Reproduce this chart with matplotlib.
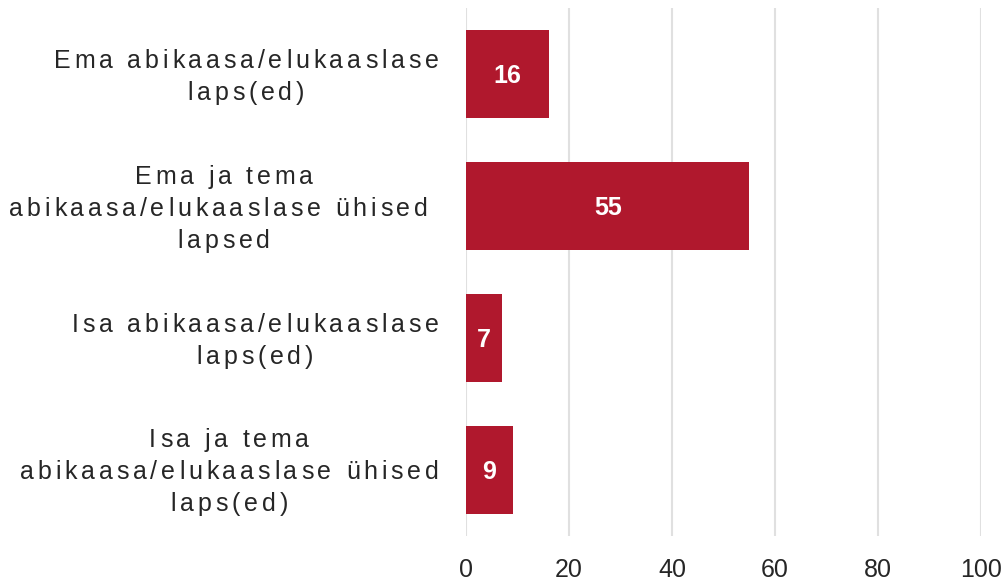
import matplotlib
matplotlib.use("Agg")
import matplotlib.pyplot as plt
from matplotlib import font_manager
from matplotlib.ft2font import FT2Font, LoadFlags

categories = [
    "Ema abikaasa/elukaaslase\nlaps(ed)",
    "Ema ja tema\nabikaasa/elukaaslase ühised \nlapsed",
    "Isa abikaasa/elukaaslase\nlaps(ed)",
    "Isa ja tema\nabikaasa/elukaaslase ühised\nlaps(ed)",
]
values = [16, 55, 7, 9]
xticks = [0, 20, 40, 60, 80, 100]

FAMILY = "Liberation Sans"
TEXT_COLOR = "#262626"
BAR_COLOR = "#B0182D"
plt.rcParams["font.family"] = [FAMILY, "DejaVu Sans"]

DPI = 100
fig = plt.figure(figsize=(10.07, 5.81), dpi=DPI)
ax = fig.add_axes([0.463, 0.0775, 0.511, 0.9085])

ypos = list(range(len(categories)))
ax.barh(ypos, values, height=0.667, color=BAR_COLOR, zorder=3)
for y, v in zip(ypos, values):
    ax.annotate(str(v), (v / 2, y), xytext=(0, -6.4), textcoords="offset points",
                ha="center", va="baseline", color="white",
                fontsize=18, fontweight="bold", zorder=4)

ax.set_ylim(3.5, -0.5)
ax.set_xlim(0, 100)
ax.set_xticks(xticks)
ax.set_xticklabels([str(t) for t in xticks], fontsize=18, color=TEXT_COLOR)
ax.set_yticks([])
ax.tick_params(axis="x", length=0, pad=16)
ax.grid(axis="x", color="#E0E0E0", linewidth=1.5, zorder=0)
for s in ax.spines.values():
    s.set_visible(False)

# --- category labels with letter spacing (drawn character by character) ---
LABEL_PT = 18
SPACING_PX = 3.8
LINE_PX = 32
BASELINE_OFF = 9.5
fpath = font_manager.findfont(font_manager.FontProperties(family=FAMILY))
ft = FT2Font(fpath)
ft.set_size(LABEL_PT, DPI)


def advance(ch):
    g = ft.load_char(ord(ch), flags=LoadFlags.NO_HINTING)
    return g.linearHoriAdvance / 65536.0


W, H = fig.get_size_inches() * DPI
ax_left_px = ax.transAxes.transform((0, 0))[0]
block_right = ax_left_px - 24

for i, label in enumerate(categories):
    lines = label.split("\n")
    widths = [sum(advance(c) + SPACING_PX for c in ln) for ln in lines]
    bw = max(widths)
    cx = block_right - bw / 2
    yc = ax.transData.transform((0, i))[1]
    n = len(lines)
    for j, (ln, lw) in enumerate(zip(lines, widths)):
        base = yc - BASELINE_OFF - (j - (n - 1) / 2) * LINE_PX
        x = cx - lw / 2
        for c in ln:
            if c != " ":
                fig.text(x / W, base / H, c, fontsize=LABEL_PT,
                         color=TEXT_COLOR, ha="left", va="baseline",
                         family=[FAMILY, "DejaVu Sans"])
            x += advance(c) + SPACING_PX

fig.savefig("out.png", dpi=DPI, facecolor="white")
